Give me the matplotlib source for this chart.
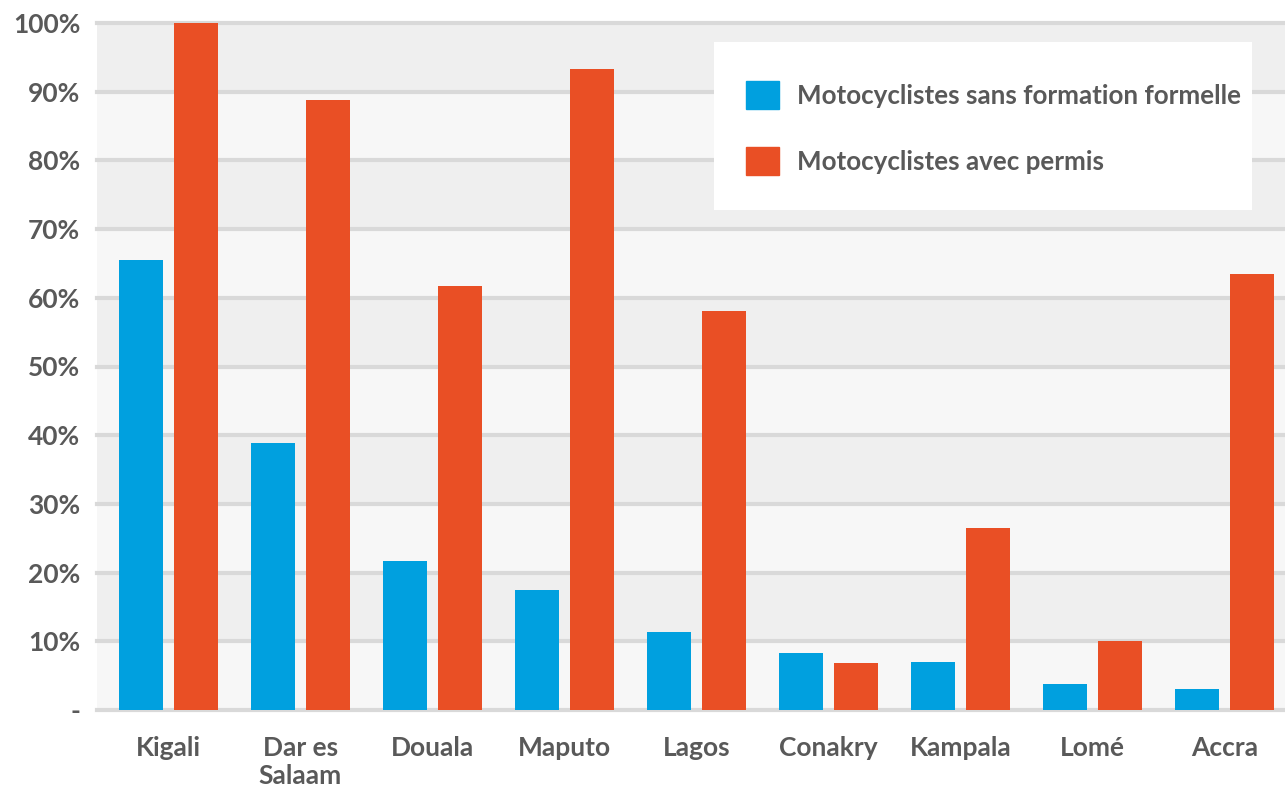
import numpy as np
import matplotlib
matplotlib.use("Agg")
import matplotlib.pyplot as plt
from matplotlib.patches import Patch, Rectangle

cities = ["Kigali", "Dar es\nSalaam", "Douala", "Maputo", "Lagos",
          "Conakry", "Kampala", "Lomé", "Accra"]
sans_formation = [65.5, 38.9, 21.7, 17.5, 11.4, 8.3, 7.0, 3.8, 3.1]
avec_permis = [100.0, 88.8, 61.7, 93.3, 58.1, 6.8, 26.5, 10.0, 63.5]
yticks = [0, 10, 20, 30, 40, 50, 60, 70, 80, 90, 100]
ytick_labels = ["-", "10%", "20%", "30%", "40%", "50%", "60%", "70%", "80%", "90%", "100%"]

blue = "#00A0DF"
red = "#E94F25"
grey_text = "#595959"

plt.rcParams["font.family"] = ["Lato", "DejaVu Sans"]
plt.rcParams["font.weight"] = "bold"

W, H = 1285, 787
fig = plt.figure(figsize=(W / 100, H / 100), dpi=100)
ax = fig.add_axes([97 / W, 1 - 710 / H, 1 - 97 / W, (710 - 23) / H])

# alternating background bands
for i in range(10):
    ax.axhspan(i * 10, i * 10 + 10, color="#efefef" if i % 2 else "#f7f7f7", lw=0, zorder=0)
for y in yticks:
    ax.axhline(y, color="#d9d9d9", lw=3, zorder=1, clip_on=False)

x = np.arange(len(cities))
w = 0.333
off = 0.208
ax.bar(x - off, sans_formation, w, color=blue, zorder=2)
ax.bar(x + off, avec_permis, w, color=red, zorder=2)

ax.set_xlim(-0.54, 8.46)
ax.set_ylim(0, 100)
ax.set_yticks(yticks)
ax.set_yticklabels(ytick_labels)
ax.set_xticks(x)
ax.set_xticklabels(cities, va="top", ha="center", linespacing=1.2)
ax.tick_params(axis="both", length=0, labelsize=19, labelcolor=grey_text)
ax.tick_params(axis="y", pad=12)
ax.tick_params(axis="x", pad=19)
for s in ax.spines.values():
    s.set_visible(False)

# legend: white box drawn behind a frameless legend
ax.add_patch(Rectangle((714 / W, 1 - 210 / H), (1252 - 714) / W, (210 - 42) / H,
                       transform=fig.transFigure, facecolor="white", edgecolor="none",
                       zorder=4, clip_on=False))
handles = [Patch(color=blue), Patch(color=red)]
leg = ax.legend(handles, ["Motocyclistes sans formation formelle", "Motocyclistes avec permis"],
                loc="upper left", bbox_to_anchor=(746 / W, 1 - 81 / H),
                bbox_transform=fig.transFigure, fontsize=18.7, frameon=False,
                handlelength=1.27, handleheight=1.27, handletextpad=0.68,
                labelspacing=1.47, borderpad=0, borderaxespad=0)
leg.set_zorder(5)
for t in leg.get_texts():
    t.set_color(grey_text)
    t.set_fontweight("bold")

fig.savefig("out.png", dpi=100, facecolor="white")
